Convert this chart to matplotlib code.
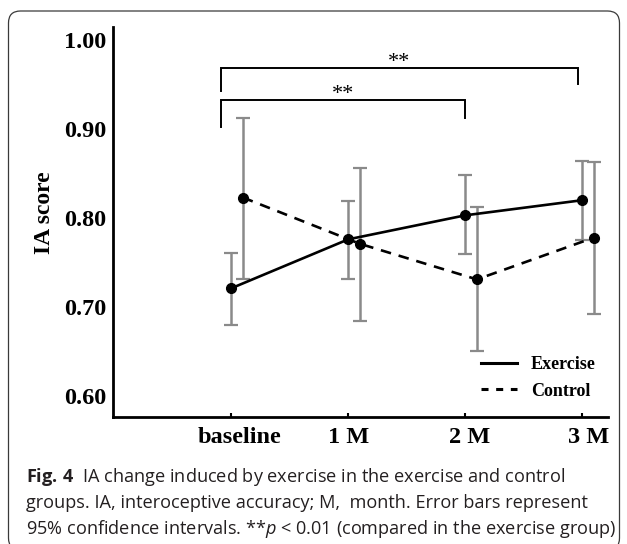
import matplotlib
matplotlib.use('Agg')
import numpy as np
import matplotlib.pyplot as plt

from matplotlib.lines import Line2D
from matplotlib.patches import FancyBboxPatch
from matplotlib.transforms import IdentityTransform, ScaledTranslation


########
# Data #
########

time_points = ['baseline', '1 M', '2 M', '3 M']

exercise_mean = [0.721, 0.776, 0.803, 0.820]
exercise_lo = [0.680, 0.732, 0.759, 0.775]
exercise_hi = [0.761, 0.819, 0.848, 0.864]

control_mean = [0.823, 0.771, 0.731, 0.778]
control_lo = [0.731, 0.684, 0.650, 0.692]
control_hi = [0.912, 0.856, 0.812, 0.863]

y_ticks = [0.60, 0.70, 0.80, 0.90, 1.00]

# (from, to, bracket height, label)
sig_brackets = [(0, 2, 0.933, '**'), (0, 3, 0.969, '**')]

caption_lines = [
    r'$\mathbf{Fig.\,4}$  IA change induced by exercise in the exercise and control',
    'groups. IA, interoceptive accuracy; M,  month. Error bars represent',
    r'95% confidence intervals. **$\mathit{p}$ < 0.01 (compared in the exercise group)',
]

###########
# Styling #
###########

W, H = 627, 544
SERIF = 'Liberation Serif'
plt.rcParams['mathtext.fontset'] = 'custom'
plt.rcParams['mathtext.rm'] = 'Open Sans'
plt.rcParams['mathtext.it'] = 'Open Sans:italic'
plt.rcParams['mathtext.bf'] = 'Open Sans:bold'


def px(x, y):
    # pixel position (from top left) to figure fraction
    return x / W, 1 - y / H


def plot_group(ax, x, mean, lo, hi, ls):
    mean = np.asarray(mean)
    err = [mean - np.asarray(lo), np.asarray(hi) - mean]
    ax.errorbar(x, mean, yerr=err, fmt='none', ecolor='#8a8a8a',
                elinewidth=1.8, capsize=5, capthick=1.6, zorder=2)
    ax.plot(x, mean, color='black', lw=1.9, ls=ls, marker='o', ms=7,
            zorder=3)


fig = plt.figure(figsize=(W / 100, H / 100), dpi=100)
ax = fig.add_axes([113 / W, 1 - 417 / H, (608 - 113) / W, (417 - 27) / H])

x = np.arange(len(time_points))
plot_group(ax, x, exercise_mean, exercise_lo, exercise_hi, '-')
plot_group(ax, x + 0.1, control_mean, control_lo, control_hi, (0, (4, 3)))

ax.set_xlim(-1.01, 3.22)
ax.set_ylim(0.5764, 1.0146)

for side in ('top', 'right'):
    ax.spines[side].set_visible(False)
for side in ('left', 'bottom'):
    ax.spines[side].set_linewidth(2.0)

ax.set_xticks(x)
ax.set_xticklabels(time_points, fontfamily=SERIF, fontweight='bold',
                   fontsize=17.5)
ax.tick_params(axis='x', direction='in', length=3, width=1.5, pad=7)
for lbl, dx in zip(ax.get_xticklabels(), [8, 0, 4, 6]):
    lbl.set_transform(lbl.get_transform() +
                      ScaledTranslation(dx / 100, 0, fig.dpi_scale_trans))

ax.set_yticks(y_ticks)
ax.set_yticklabels(['%.2f' % v for v in y_ticks], fontfamily=SERIF,
                   fontweight='bold', fontsize=17.5)
ax.tick_params(axis='y', length=0, pad=5)

ax.set_ylabel('IA score', fontfamily=SERIF, fontweight='bold', fontsize=17,
              va='center')
ax.yaxis.set_label_coords(-0.138, 0.523)

# significance brackets
for i, j, h, txt in sig_brackets:
    x0 = i - 0.085
    x1 = j - 0.04 if j == 3 else j
    leg_l = h - (0.031 if j == 2 else 0.026)
    leg_r = h - (0.021 if j == 2 else 0.018)
    ax.plot([x0, x0, x1, x1], [leg_l, h, h, leg_r], color='black', lw=1.4,
            solid_joinstyle='miter', clip_on=False)
    ax.text((x0 + x1) / 2, h - 0.005, txt, ha='center', va='bottom',
            fontfamily=SERIF, fontsize=16)

# legend
handles = [Line2D([], [], color='black', lw=2.2, ls='-'),
           Line2D([], [], color='black', lw=2.2, ls=(0, (2.3, 2.5)))]
fig.legend(handles, ['Exercise', 'Control'], loc='center left',
           bbox_to_anchor=px(481, 378), frameon=False, borderpad=0,
           borderaxespad=0, handlelength=2.0, handletextpad=0.75,
           labelspacing=0.5,
           prop={'family': SERIF, 'weight': 'bold', 'size': 13})

# frame round chart and caption
frame = FancyBboxPatch((8.5, -6), 611, H - 11 + 6,
                       boxstyle='round,pad=0,rounding_size=12',
                       transform=IdentityTransform(), fill=False,
                       edgecolor='#3a3a3a', lw=0.9)
fig.patches.append(frame)

# caption
targets = [548, 553, 586]
texts = []
for k, line in enumerate(caption_lines):
    t = fig.text(*px(26, 482 + 26 * k), line, fontfamily='Open Sans',
                 fontsize=12, color='#231f20', va='baseline', ha='left')
    texts.append(t)

renderer = fig.canvas.get_renderer()
scale = np.mean([tg / t.get_window_extent(renderer).width
                 for t, tg in zip(texts, targets)])
for t in texts:
    t.set_fontsize(12 * scale)

fig.savefig('out.png', dpi=100)
